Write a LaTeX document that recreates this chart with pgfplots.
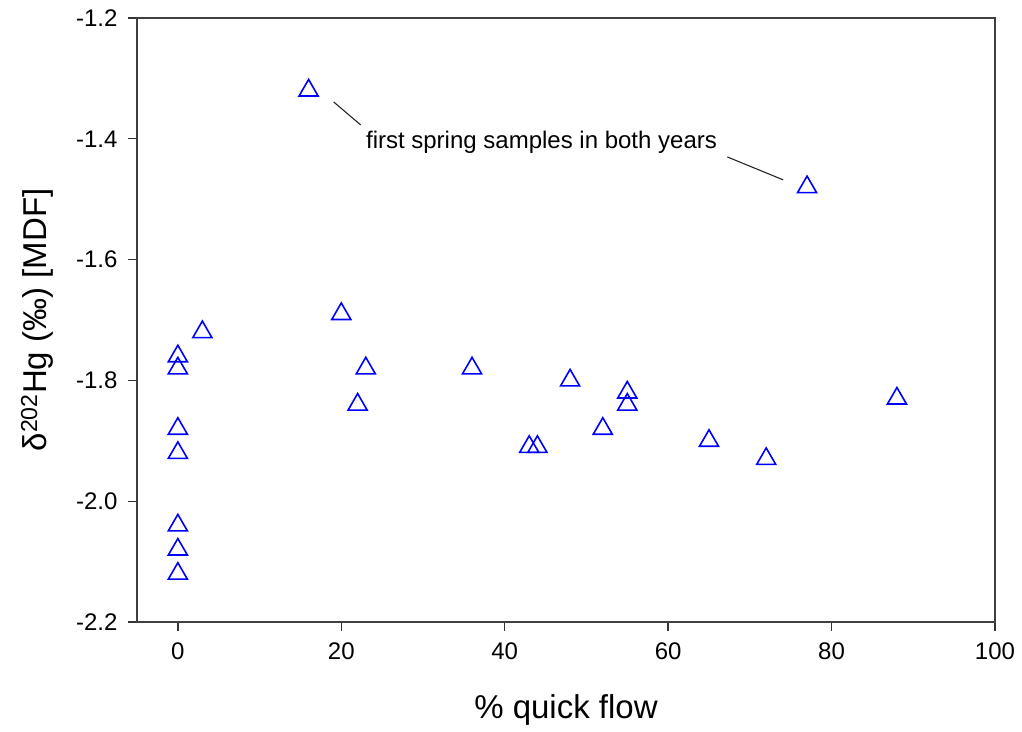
\documentclass[border=0pt]{standalone}
\usepackage{fontspec}
\setmainfont{Liberation Sans}
\usepackage{pgfplots}
\pgfplotsset{compat=1.18}
\begin{document}
\begin{tikzpicture}
\begin{axis}[
  scale only axis,
  width=858bp, height=604bp,
  xmin=-5, xmax=100, ymin=-2.2, ymax=-1.2,
  xtick={0,20,...,100},
  ytick={-2.2,-2.0,-1.8,-1.6,-1.4,-1.2},
  /pgf/number format/assume math mode=true,
  yticklabel style={/pgf/number format/.cd, fixed, fixed zerofill, precision=1, /tikz/.cd, xshift=-7bp},
  xticklabel style={/pgf/number format/.cd, fixed, /tikz/.cd, yshift=-8bp},
  tick align=outside,
  xtick pos=bottom, ytick pos=left,
  major tick length=9bp,
  tick style={line width=1.3bp, black!80},
  axis line style={line width=1.3bp, black!75},
  ticklabel style={font=\fontsize{24bp}{28bp}\selectfont},
  xlabel={\% quick flow},
  ylabel={δ\textsuperscript{202}Hg (‰) [MDF]},
  label style={font=\fontsize{33bp}{38bp}\selectfont},
  xlabel style={at={(rel axis cs:0.5,0)}, anchor=center, yshift=-88bp},
  ylabel style={at={(axis description cs:-0.1166,0.5)}, anchor=center},
  clip=false,
]
\addplot[only marks, mark=triangle, mark size=11bp, blue, line width=1.6bp]
coordinates {
(16,-1.32) (77,-1.48) (3,-1.72)
(0,-1.76) (0,-1.78) (0,-1.88) (0,-1.92) (0,-2.04) (0,-2.08) (0,-2.12)
(20,-1.69) (23,-1.78) (22,-1.84) (36,-1.78) (48,-1.80)
(43,-1.91) (44,-1.91) (52,-1.88) (55,-1.82) (55,-1.84)
(65,-1.90) (72,-1.93) (88,-1.83)
};
\draw[line width=1.1bp, black!85] (axis cs:19.07,-1.339) -- (axis cs:22.37,-1.377);
\draw[line width=1.1bp, black!85] (axis cs:67.24,-1.430) -- (axis cs:74.08,-1.468);
\node[font=\fontsize{24bp}{28bp}\selectfont] at (axis cs:44.5,-1.405) {first spring samples in both years};
\coordinate (sw) at (rel axis cs:0,0);
\end{axis}
\useasboundingbox (sw) ++(-137bp,-110bp) rectangle ++(1022bp,732bp);
\end{tikzpicture}
\end{document}
